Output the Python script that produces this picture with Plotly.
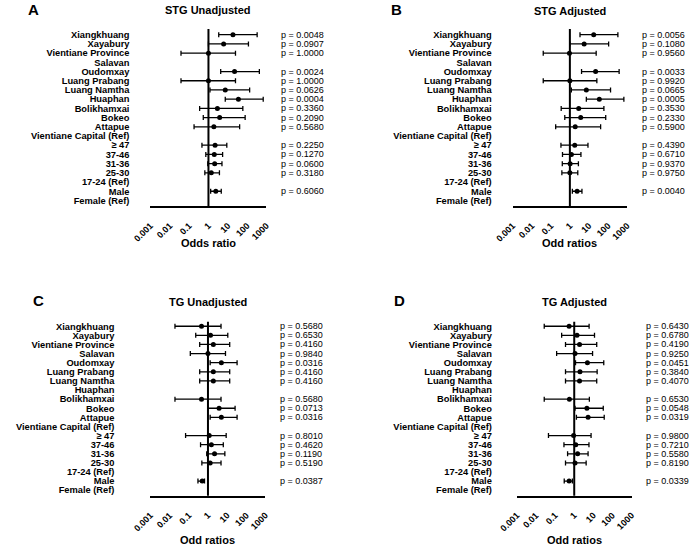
import plotly.graph_objects as go

rows = ["Xiangkhuang", "Xayabury", "Vientiane Province", "Salavan", "Oudomxay",
        "Luang Prabang", "Luang Namtha", "Huaphan", "Bolikhamxai", "Bokeo", "Attapue",
        "Vientiane Capital (Ref)", "≥ 47", "37-46", "31-36", "25-30", "17-24 (Ref)",
        "Male", "Female (Ref)"]

a_or = [18.5, 6.1, 1.0, None, 22.4, 1.0, 7.4, 35.5, 2.9, 3.8, 1.9, None, 2.2, 2.0, 2.1, 1.4, None, 2.4, None]
a_lo = [3.4, 1.0, 0.038, None, 4.3, 0.038, 1.2, 7.4, 0.35, 0.54, 0.18, None, 0.46, 0.73, 0.92, 0.65, None, 1.3, None]
a_hi = [330, 117, 25, None, 430, 25, 135, 680, 60, 79, 41, None, 8.9, 5.4, 5.0, 3.7, None, 4.6, None]
a_p = ["0.0048", "0.0907", "1.0000", "", "0.0024", "1.0000", "0.0626", "0.0004", "0.3360", "0.2090",
       "0.5680", "", "0.2250", "0.1270", "0.0600", "0.3180", "", "0.6060", ""]

b_or = [17.8, 5.6, 0.95, None, 22.4, 1.0, 7.3, 35, 2.9, 3.7, 1.9, None, 1.8, 1.2, 1.03, 1.0, None, 2.4, None]
b_lo = [3.4, 1.0, 0.04, None, 4.1, 0.04, 1.2, 7.3, 0.35, 0.54, 0.18, None, 0.34, 0.41, 0.4, 0.38, None, 1.35, None]
b_hi = [330, 108, 24, None, 384, 26, 136, 680, 61, 76, 41, None, 8.9, 3.8, 2.8, 2.6, None, 4.3, None]
b_p = ["0.0056", "0.1080", "0.9560", "", "0.0033", "0.9920", "0.0665", "0.0005", "0.3530", "0.2330",
       "0.5900", "", "0.4390", "0.6710", "0.9370", "0.9750", "", "0.0040", ""]

c_or = [0.46, 1.36, 1.9, 1.0, 5.0, 1.9, 1.9, None, 0.46, 3.8, 5.0, None, 1.16, 1.5, 2.2, 1.3, None, 0.5, None]
c_lo = [0.019, 0.23, 0.37, 0.12, 1.3, 0.37, 0.37, None, 0.019, 1.0, 1.3, None, 0.068, 0.41, 0.86, 0.48, None, 0.3, None]
c_hi = [4.8, 10.8, 13.6, 8.2, 33, 13.6, 13.6, None, 4.8, 26, 33, None, 8.9, 6.3, 7.6, 4.8, None, 0.66, None]
c_p = ["0.5680", "0.6530", "0.4160", "0.9840", "0.0316", "0.4160", "0.4160", "", "0.5680", "0.0713",
       "0.0316", "", "0.8010", "0.4620", "0.1190", "0.5190", "", "0.0387", ""]

d_or = [0.54, 1.4, 1.9, 1.1, 4.9, 2.0, 1.9, None, 0.56, 4.6, 5.3, None, 0.93, 1.2, 1.5, 1.1, None, 0.54, None]
d_lo = [0.027, 0.22, 0.35, 0.12, 1.17, 0.35, 0.35, None, 0.027, 1.1, 1.3, None, 0.045, 0.29, 0.45, 0.35, None, 0.3, None]
d_hi = [6.0, 11.5, 15, 9.1, 35, 15.8, 15, None, 6.2, 33, 37, None, 7.6, 5.9, 5.3, 4.2, None, 0.8, None]
d_p = ["0.6430", "0.6780", "0.4190", "0.9250", "0.0451", "0.3840", "0.4070", "", "0.6530", "0.0548",
       "0.0319", "", "0.9800", "0.7210", "0.5580", "0.8190", "", "0.0339", ""]

tick_vals = [0.001, 0.01, 0.1, 1, 10, 100, 1000]
tick_text = ["0.001", "0.01", "0.1", "1", "10", "100", "1000"]

W, H = 692, 546
FONT = "Liberation Sans, Arial, sans-serif"

panels = [
    dict(letter="A", title="STG Unadjusted", xlab="Odds ratio", o=a_or, lo=a_lo, hi=a_hi, p=a_p,
         x0=137, x1=257, y0=29, y1=206, yr=[18.6, -0.62], standoff=20, px=270,
         letter_xy=(16, 9), title_y=10, xlab_y=243),
    dict(letter="B", title="STG Adjusted", xlab="Odd ratios", o=b_or, lo=b_lo, hi=b_hi, p=b_p,
         x0=511.7, x1=630, y0=29, y1=206, yr=[18.6, -0.62], standoff=20, px=643.7,
         letter_xy=(391.5, 9), title_y=11, xlab_y=243),
    dict(letter="C", title="TG Unadjusted", xlab="Odd ratios", o=c_or, lo=c_lo, hi=c_hi, p=c_p,
         x0=137, x1=256, y0=321.7, y1=495.7, yr=[18.6, -0.5], standoff=35, px=269.3,
         letter_xy=(21, 300), title_y=302, xlab_y=540),
    dict(letter="D", title="TG Adjusted", xlab="Odd ratios", o=d_or, lo=d_lo, hi=d_hi, p=d_p,
         x0=516, x1=634.7, y0=321.7, y1=495.7, yr=[18.6, -0.5], standoff=24, px=647.7,
         letter_xy=(395, 300), title_y=302, xlab_y=540),
]

fig = go.Figure()
annotations = []
shapes = []
layout = {}
yidx = list(range(len(rows)))

for i, pn in enumerate(panels, start=1):
    sfx = "" if i == 1 else str(i)
    xa, ya = "x" + sfx, "y" + sfx
    plus = [(h - c) if c is not None else None for c, h in zip(pn["o"], pn["hi"])]
    minus = [(c - l) if c is not None else None for c, l in zip(pn["o"], pn["lo"])]
    fig.add_trace(go.Scatter(
        x=pn["o"], y=yidx, mode="markers", xaxis=xa, yaxis=ya, showlegend=False,
        marker=dict(color="black", size=5),
        error_x=dict(type="data", symmetric=False, array=plus, arrayminus=minus,
                     color="black", thickness=1.3, width=2.5),
    ))
    cx = (pn["x0"] + pn["x1"]) / 2
    layout["xaxis" + sfx] = dict(
        type="log", range=[-3, 3], domain=[pn["x0"] / W, pn["x1"] / W], anchor=ya,
        showgrid=False, zeroline=False, showline=True, linecolor="black", linewidth=1.8,
        tickvals=tick_vals, ticktext=tick_text, tickangle=-45, ticks="",
        ticklabelstandoff=9,
        tickfont=dict(family=FONT, size=9, color="black", weight="bold"),
    )
    layout["yaxis" + sfx] = dict(
        range=pn["yr"], domain=[1 - pn["y1"] / H, 1 - pn["y0"] / H], anchor=xa,
        showgrid=False, zeroline=False, showline=False, ticks="",
        tickvals=yidx, ticktext=rows, ticklabelstandoff=pn["standoff"],
        tickfont=dict(family=FONT, size=9.3, color="black", weight="bold"),
    )
    shapes.append(dict(type="line", xref=xa, yref=ya + " domain", x0=1, x1=1, y0=0, y1=1,
                       line=dict(color="black", width=2)))
    for r, txt in enumerate(pn["p"]):
        if txt:
            annotations.append(dict(
                text="p = " + txt, x=pn["px"] / W, xref="paper", y=r, yref=ya,
                xanchor="left", yanchor="middle", showarrow=False,
                font=dict(family=FONT, size=9, color="black")))
    annotations.append(dict(text=pn["title"], x=cx / W, y=1 - pn["title_y"] / H, xref="paper", yref="paper",
                            xanchor="center", yanchor="middle", showarrow=False,
                            font=dict(family=FONT, size=11, color="black", weight="bold")))
    annotations.append(dict(text=pn["xlab"], x=cx / W, y=1 - pn["xlab_y"] / H, xref="paper", yref="paper",
                            xanchor="center", yanchor="middle", showarrow=False,
                            font=dict(family=FONT, size=11, color="black", weight="bold")))
    lx, ly = pn["letter_xy"]
    annotations.append(dict(text=pn["letter"], x=lx / W, y=1 - ly / H, xref="paper", yref="paper",
                            xanchor="center", yanchor="middle", showarrow=False,
                            font=dict(family=FONT, size=15, color="black", weight="bold")))

fig.update_layout(
    width=W, height=H, margin=dict(l=0, r=0, t=0, b=0),
    paper_bgcolor="white", plot_bgcolor="white",
    annotations=annotations, shapes=shapes, **layout,
)
fig.write_html("out.html")
